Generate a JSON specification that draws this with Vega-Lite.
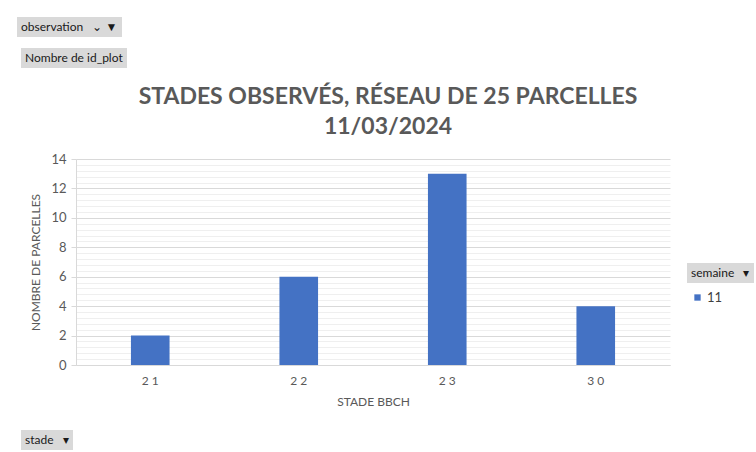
{
  "$schema": "https://vega.github.io/schema/vega-lite/v6.json",
  "width": 594,
  "height": 206,
  "autosize": {"type": "none"},
  "padding": {"left": 76, "top": 159, "right": 86, "bottom": 87},
  "background": "white",
  "config": {"view": {"stroke": null}, "font": "Lato"},
  "title": {
    "text": ["STADES OBSERVÉS, RÉSEAU DE 25 PARCELLES", "11/03/2024"],
    "font": "Lato",
    "fontSize": 23,
    "fontWeight": "bold",
    "color": "#595959",
    "anchor": "middle",
    "dx": 15,
    "dy": 141,
    "offset": 19,
    "lineHeight": 30
  },
  "layer": [
    {
      "data": {"values": [
        {"stade": "21", "semaine": "11", "nb": 2},
        {"stade": "22", "semaine": "11", "nb": 6},
        {"stade": "23", "semaine": "11", "nb": 13},
        {"stade": "30", "semaine": "11", "nb": 4}
      ]},
      "mark": {"type": "bar"},
      "encoding": {
        "x": {
          "field": "stade", "type": "nominal", "sort": null,
          "scale": {"paddingInner": 0.74, "paddingOuter": 0.37},
          "axis": {
            "title": "STADE BBCH", "titleFont": "Lato", "titleFontSize": 12, "titleFontWeight": "normal", "titleColor": "#595959", "titlePadding": 10,
            "labelAngle": 0, "labelFont": "Lato", "labelFontSize": 12, "labelColor": "#595959", "labelPadding": 10,
            "labelExpr": "join(split(datum.label, ''), '\u00a0')",
            "ticks": false, "domainColor": "#d9d9d9", "domainWidth": 1, "grid": false
          }
        },
        "y": {
          "field": "nb", "type": "quantitative",
          "scale": {"domain": [0, 14], "nice": false},
          "axis": {
            "title": "NOMBRE DE PARCELLES", "titleFont": "Lato", "titleFontSize": 12, "titleFontWeight": "normal", "titleColor": "#595959", "titlePadding": 8,
            "values": [0,0.4,0.8,1.2,1.6,2,2.4,2.8,3.2,3.6,4,4.4,4.8,5.2,5.6,6,6.4,6.8,7.2,7.6,8,8.4,8.8,9.2,9.6,10,10.4,10.8,11.2,11.6,12,12.4,12.8,13.2,13.6,14],
            "labelExpr": "datum.value % 2 === 0 ? format(datum.value, 'd') : ''",
            "labelOverlap": false,
            "labelFont": "Lato", "labelFontSize": 13, "labelColor": "#595959", "labelPadding": 5,
            "gridColor": {"condition": {"test": "datum.value % 2 === 0", "value": "#d9d9d9"}, "value": "#efefef"},
            "gridWidth": 1,
            "tickColor": "#d9d9d9", "tickSize": 5,
            "tickOpacity": {"condition": {"test": "datum.value % 2 === 0", "value": 1}, "value": 0},
            "domain": true, "domainColor": "#d9d9d9"
          }
        },
        "color": {
          "field": "semaine", "type": "nominal",
          "scale": {"range": ["#4472C4"]},
          "legend": {
            "orient": "none", "legendX": 615, "legendY": 132, "title": null,
            "symbolType": "square", "symbolSize": 40, "padding": 0,
            "labelFont": "Lato", "labelFontSize": 13, "labelColor": "#404040", "labelOffset": 3
          }
        }
      }
    },
    {
      "data": {"values": [{"bouton": "observation\u00a0\u00a0\u00a0⌄\u00a0▼\u00a0\u00a0"}]},
      "mark": {"type": "point", "opacity": 0},
      "encoding": {
        "shape": {"field": "bouton", "type": "nominal", "legend": {
          "orient": "none", "legendX": -59, "legendY": -142, "title": null,
          "fillColor": "#d9d9d9", "padding": 4, "symbolSize": 1, "symbolOpacity": 0, "symbolStrokeWidth": 0, "labelOffset": -12,
          "labelFont": "Lato", "labelFontSize": 12, "labelColor": "#1a1a1a"
        }}
      }
    },
    {
      "data": {"values": [{"bouton": "Nombre de id_plot\u00a0\u00a0"}]},
      "mark": {"type": "point", "opacity": 0},
      "encoding": {
        "fill": {"field": "bouton", "type": "nominal", "legend": {
          "orient": "none", "legendX": -55, "legendY": -111, "title": null,
          "fillColor": "#d9d9d9", "padding": 4, "symbolSize": 1, "symbolOpacity": 0, "symbolStrokeWidth": 0, "labelOffset": -12,
          "labelFont": "Lato", "labelFontSize": 12, "labelColor": "#1a1a1a"
        }}
      }
    },
    {
      "data": {"values": [{"bouton": "semaine\u00a0\u00a0\u00a0▾\u00a0\u00a0\u00a0"}]},
      "mark": {"type": "point", "opacity": 0},
      "encoding": {
        "stroke": {"field": "bouton", "type": "nominal", "legend": {
          "orient": "none", "legendX": 611, "legendY": 104, "title": null,
          "fillColor": "#d9d9d9", "padding": 4, "symbolSize": 1, "symbolOpacity": 0, "symbolStrokeWidth": 0, "labelOffset": -12,
          "labelFont": "Lato", "labelFontSize": 12, "labelColor": "#1a1a1a"
        }}
      }
    },
    {
      "data": {"values": [{"bouton": "stade\u00a0\u00a0\u00a0▾\u00a0"}]},
      "mark": {"type": "point", "opacity": 0},
      "encoding": {
        "strokeDash": {"field": "bouton", "type": "nominal", "legend": {
          "orient": "none", "legendX": -55, "legendY": 271, "title": null,
          "fillColor": "#d9d9d9", "padding": 4, "symbolSize": 1, "symbolOpacity": 0, "symbolStrokeWidth": 0, "labelOffset": -12,
          "labelFont": "Lato", "labelFontSize": 12, "labelColor": "#1a1a1a"
        }}
      }
    }
  ]
}
